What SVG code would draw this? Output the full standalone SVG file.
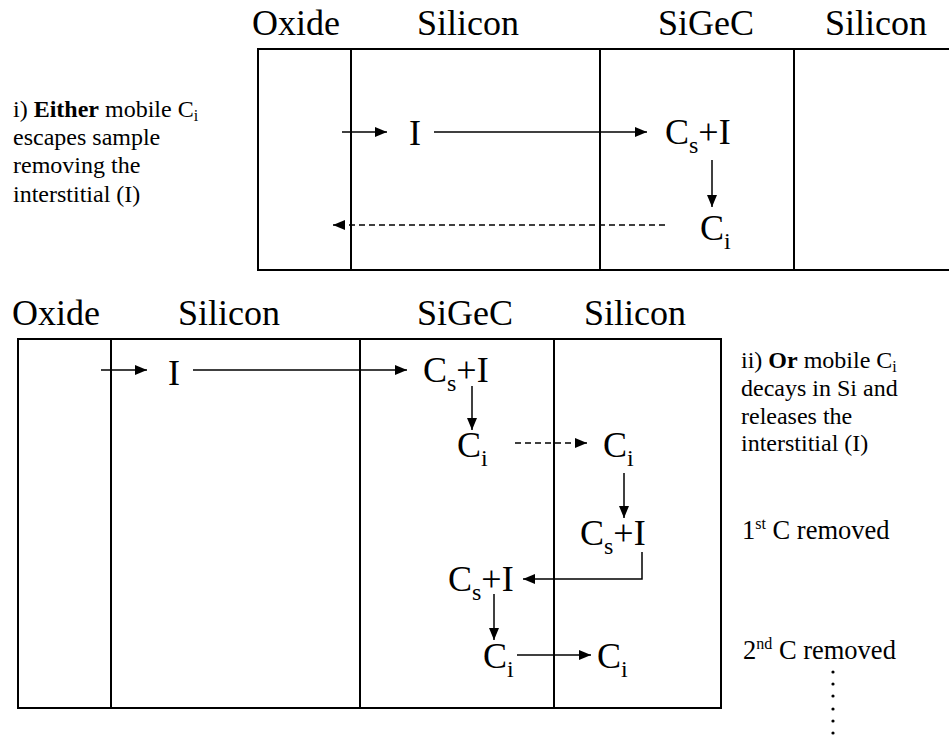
<svg xmlns="http://www.w3.org/2000/svg" width="949" height="738" viewBox="0 0 949 738">
<style>
.big{font-family:"Liberation Serif","Times New Roman",serif;font-size:36px;fill:#000}
.sub{font-size:24px}
.note{font-family:"Liberation Serif","Times New Roman",serif;font-size:24px;fill:#000}
.rem{font-size:26.5px}
.nsub{font-size:16px}
.box{fill:none;stroke:#000;stroke-width:2}
.div{stroke:#000;stroke-width:2}
.con{fill:none;stroke:#000;stroke-width:1.5}
.dash{stroke-dasharray:6 4}
</style>
<defs>
<marker id="ah" viewBox="0 0 12 10" refX="12" refY="5" markerWidth="12" markerHeight="10" orient="auto" markerUnits="userSpaceOnUse"><path d="M0,0 L12,5 L0,10 z" fill="#000"/></marker>
</defs>
<rect width="949" height="738" fill="#fff"/>

<g id="top-structure">
<rect class="box" x="258" y="49" width="720" height="221"/>
<line class="div" x1="351" y1="49" x2="351" y2="270"/>
<line class="div" x1="600" y1="49" x2="600" y2="270"/>
<line class="div" x1="794" y1="49" x2="794" y2="270"/>
<text class="big" x="252" y="35">Oxide</text>
<text class="big" x="417" y="35">Silicon</text>
<text class="big" x="658" y="35">SiGeC</text>
<text class="big" x="825" y="35">Silicon</text>
</g>

<g id="bottom-structure">
<rect class="box" x="18" y="339" width="703" height="369"/>
<line class="div" x1="111" y1="339" x2="111" y2="708"/>
<line class="div" x1="360" y1="339" x2="360" y2="708"/>
<line class="div" x1="554" y1="339" x2="554" y2="708"/>
<text class="big" x="12" y="325">Oxide</text>
<text class="big" x="178" y="325">Silicon</text>
<text class="big" x="417" y="325">SiGeC</text>
<text class="big" x="584" y="325">Silicon</text>
</g>

<g id="note-i">
<text class="note" x="13" y="117"><tspan>i) </tspan><tspan font-weight="bold">Either</tspan><tspan> mobile C</tspan><tspan class="nsub" dy="4">i</tspan></text>
<text class="note" x="13" y="145">escapes sample</text>
<text class="note" x="13" y="173">removing the</text>
<text class="note" x="13" y="202">interstitial (I)</text>
</g>

<g id="note-ii">
<text class="note" x="741" y="368"><tspan>ii) </tspan><tspan font-weight="bold">Or</tspan><tspan> mobile C</tspan><tspan class="nsub" dy="4">i</tspan></text>
<text class="note" x="741" y="396">decays in Si and</text>
<text class="note" x="741" y="424">releases the</text>
<text class="note" x="741" y="451">interstitial (I)</text>
</g>

<g id="note-1st"><text class="note rem" x="742" y="539">1<tspan class="nsub" dy="-10">st</tspan><tspan dy="10"> C removed</tspan></text></g>
<g id="note-2nd"><text class="note rem" x="743" y="659">2<tspan class="nsub" dy="-10">nd</tspan><tspan dy="10"> C removed</tspan></text></g>
<g id="dots" fill="#000">
<circle cx="833" cy="672" r="1.6"/><circle cx="833" cy="684" r="1.6"/><circle cx="833" cy="696" r="1.6"/><circle cx="833" cy="709" r="1.6"/><circle cx="833" cy="721" r="1.6"/><circle cx="833" cy="733" r="1.6"/>
</g>

<g id="t-I"><text class="big" x="409" y="145">I</text></g>
<g id="t-CsI"><text class="big" x="665" y="144">C<tspan class="sub" dy="9">s</tspan><tspan dy="-9">+I</tspan></text></g>
<g id="t-Ci"><text class="big" x="700" y="240">C<tspan class="sub" dy="9">i</tspan></text></g>

<g id="b-I"><text class="big" x="168" y="385">I</text></g>
<g id="b-CsI1"><text class="big" x="423" y="382">C<tspan class="sub" dy="9">s</tspan><tspan dy="-9">+I</tspan></text></g>
<g id="b-Ci1"><text class="big" x="457" y="457">C<tspan class="sub" dy="9">i</tspan></text></g>
<g id="b-Ci2"><text class="big" x="603" y="457">C<tspan class="sub" dy="9">i</tspan></text></g>
<g id="b-CsI2"><text class="big" x="580" y="545">C<tspan class="sub" dy="9">s</tspan><tspan dy="-9">+I</tspan></text></g>
<g id="b-CsI3"><text class="big" x="448" y="591">C<tspan class="sub" dy="9">s</tspan><tspan dy="-9">+I</tspan></text></g>
<g id="b-Ci3"><text class="big" x="483" y="668">C<tspan class="sub" dy="9">i</tspan></text></g>
<g id="b-Ci4"><text class="big" x="597" y="668">C<tspan class="sub" dy="9">i</tspan></text></g>

<g id="connectors" marker-end="url(#ah)">
<line class="con" x1="342" y1="132" x2="387" y2="132"/>
<line class="con" x1="434" y1="132" x2="647" y2="132"/>
<line class="con" x1="712" y1="160" x2="712" y2="207"/>
<line class="con dash" x1="665" y1="225" x2="333" y2="225"/>

<line class="con" x1="101" y1="370" x2="147" y2="370"/>
<line class="con" x1="193" y1="370" x2="407" y2="370"/>
<line class="con" x1="472" y1="386" x2="472" y2="430"/>
<line class="con dash" x1="515" y1="443" x2="587" y2="443"/>
<line class="con" x1="624" y1="473" x2="624" y2="518"/>
<polyline class="con" points="642,552 642,579 523,579"/>
<line class="con" x1="494" y1="594" x2="494" y2="640"/>
<line class="con" x1="517" y1="655" x2="591" y2="655"/>
</g>
</svg>
